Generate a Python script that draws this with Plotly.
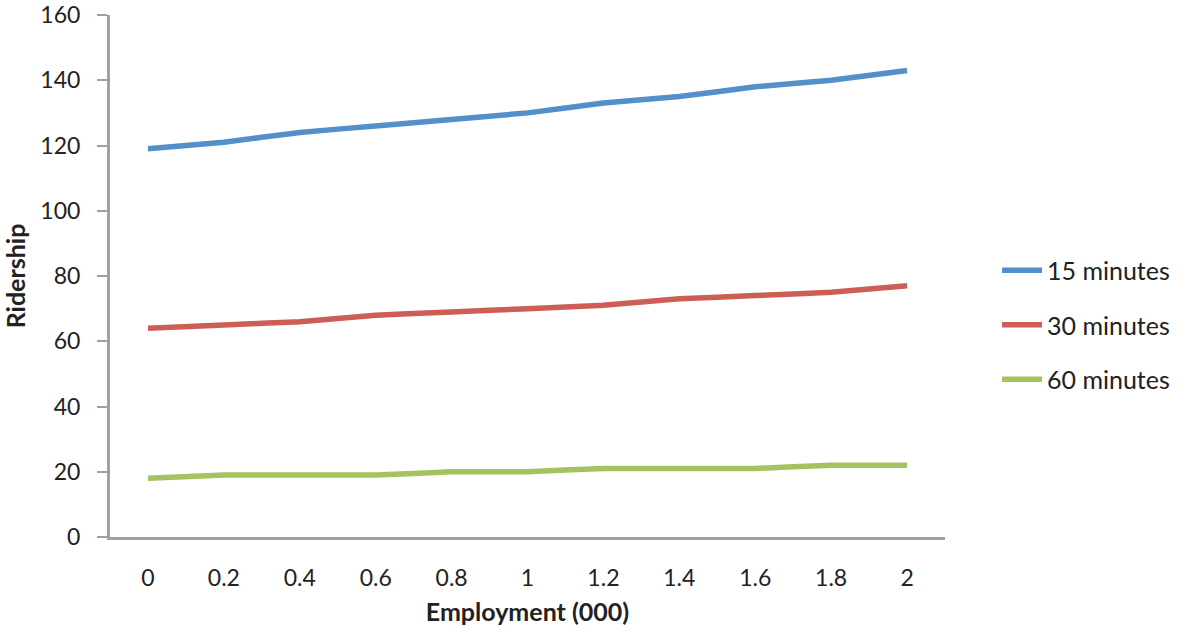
import plotly.graph_objects as go

employment = ["0", "0.2", "0.4", "0.6", "0.8", "1", "1.2", "1.4", "1.6", "1.8", "2"]
min15 = [119, 121, 124, 126, 128, 130, 133, 135, 138, 140, 143]
min30 = [64, 65, 66, 68, 69, 70, 71, 73, 74, 75, 77]
min60 = [18, 19, 19, 19, 20, 20, 21, 21, 21, 22, 22]

series = [("15 minutes", min15, "#538FC9"),
          ("30 minutes", min30, "#CC5E55"),
          ("60 minutes", min60, "#A4C25E")]

FONT = "Lato, 'Open Sans', sans-serif"

fig = go.Figure()
for i, (name, vals, col) in enumerate(series):
    fig.add_trace(go.Scatter(
        x=employment, y=vals, name=name, mode="lines",
        line=dict(color=col, width=5.5, shape="spline", smoothing=0.3),
        legendgroup=str(i),
    ))

fig.update_layout(
    width=1187, height=632,
    paper_bgcolor="white", plot_bgcolor="white",
    margin=dict(l=110, r=236, t=15, b=95),
    font=dict(family=FONT, size=23, color="#222222"),
    showlegend=True,
    legend=dict(x=1.0623, y=0.406, xanchor="left", yanchor="middle",
                font=dict(size=25, color="#222222"),
                tracegroupgap=19, itemwidth=40, traceorder="grouped"),
    xaxis=dict(
        type="category", showgrid=False, showline=True, linecolor="#A0A0A0",
        linewidth=3, ticks="", ticklabelstandoff=18, automargin=False,
        title=dict(text="<b>Employment (000)</b>", font=dict(size=25), standoff=14),
        range=[-0.5, 10.5], zeroline=False,
    ),
    yaxis=dict(
        range=[0, 160], dtick=20, showgrid=False, showline=True, automargin=False,
        linecolor="#A0A0A0", linewidth=3, ticks="outside", ticklen=10,
        tickcolor="#A0A0A0", tickwidth=2, ticklabelstandoff=12, zeroline=False,
        title=dict(text="<b>Ridership</b>", font=dict(size=25), standoff=8),
    ),
)

fig.write_html("out.html", config={"displayModeBar": False},
               post_script="document.body.style.margin='0';")
